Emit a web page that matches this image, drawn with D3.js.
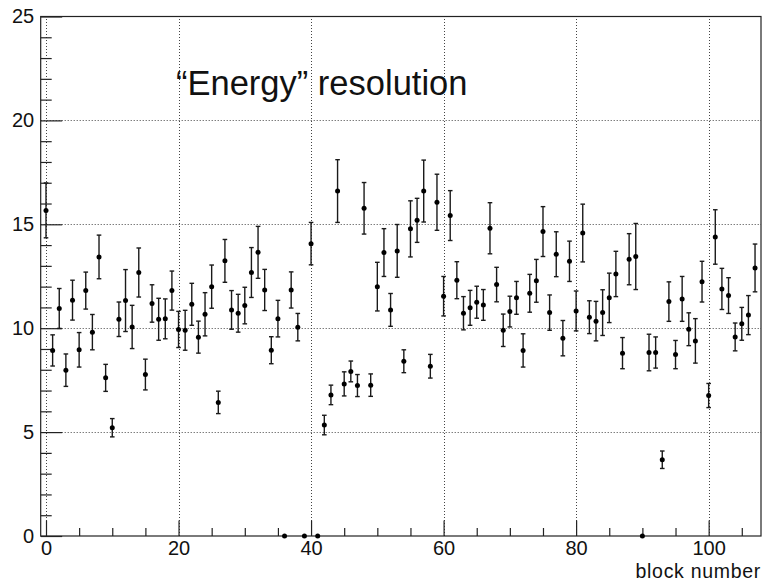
<!DOCTYPE html>
<html>
<head>
<meta charset="utf-8">
<script src="https://cdn.jsdelivr.net/npm/d3@7"></script>
<style>
  html, body { margin: 0; padding: 0; background: #fff; }
  svg { display: block; }
  text { font-family: "Liberation Sans", Arial, Helvetica, sans-serif; fill: #111; }
</style>
</head>
<body>
<svg id="chart" width="763" height="582"></svg>
<script>
// Per-block resolution (value index = block number) and its uncertainty
const resolution = [
  15.67, 8.93, 10.95, 7.98, 11.35, 8.96, 11.81, 9.81, 13.43, 7.61,
  5.21, 10.43, 11.33, 10.06, 12.68, 7.77, 11.19, 10.43, 10.45, 11.81,
  9.94, 9.90, 11.15, 9.57, 10.67, 12.00, 6.43, 13.24, 10.88, 10.72,
  11.09, 12.68, 13.65, 11.84, 8.94, 10.46, 0, 11.84, 10.05, 0,
  14.07, 0, 5.34, 6.79, 16.60, 7.32, 7.92, 7.24, 15.77, 7.26,
  12.00, 13.64, 10.88, 13.72, 8.41, 14.78, 15.19, 16.60, 8.17, 16.06,
  11.54, 15.42, 12.31, 10.72, 10.98, 11.25, 11.12, 14.81, 12.10, 9.90,
  10.80, 11.46, 8.93, 11.68, 12.28, 14.65, 10.75, 13.56, 9.52, 13.22,
  10.83, 14.58, 10.53, 10.34, 10.75, 11.46, 12.61, 8.80, 13.32, 13.45,
  0, 8.83, 8.83, 3.67, 11.28, 8.73, 11.41, 9.95, 9.39, 12.24,
  6.76, 14.39, 11.89, 11.57, 9.58, 10.21, 10.63, 12.90
];
const resolutionErr = [
  1.32, 0.75, 0.96, 0.78, 0.96, 0.83, 0.89, 0.85, 1.05, 0.65,
  0.44, 0.83, 1.49, 1.04, 1.18, 0.74, 0.90, 1.01, 0.96, 0.94,
  0.87, 0.96, 1.01, 0.77, 1.04, 1.04, 0.54, 1.03, 0.93, 0.91,
  0.88, 1.20, 1.25, 0.99, 0.65, 0.88, 0, 0.87, 0.66, 0,
  1.02, 0, 0.47, 0.47, 1.51, 0.58, 0.50, 0.53, 1.24, 0.54,
  1.17, 1.15, 0.79, 1.27, 0.55, 1.35, 1.06, 1.49, 0.57, 1.35,
  0.95, 1.20, 0.89, 0.80, 0.84, 0.77, 0.74, 1.23, 0.83, 0.78,
  0.74, 0.79, 0.80, 0.91, 1.03, 1.20, 0.85, 1.08, 0.85, 0.97,
  0.96, 1.39, 0.79, 0.95, 1.10, 1.19, 1.09, 0.75, 1.23, 1.59,
  0, 0.88, 0.75, 0.42, 0.95, 0.68, 1.08, 0.79, 1.07, 0.98,
  0.58, 1.31, 0.99, 0.86, 0.67, 0.79, 0.94, 1.15
];
const xMajorTicks = [0, 20, 40, 60, 80, 100];
const xMinorTicks = [5, 10, 15, 25, 30, 35, 45, 50, 55, 65, 70, 75, 85, 90, 95, 105];
const yMajorTicks = [0, 5, 10, 15, 20, 25];
const yMinorTicks = [1, 2, 3, 4, 6, 7, 8, 9, 11, 12, 13, 14, 16, 17, 18, 19, 21, 22, 23, 24];
const titleText = "\u201CEnergy\u201D resolution";
const xTitle = "block number";

const points = resolution.map((v, i) => ({ block: i, value: v, err: resolutionErr[i] }));

const svg = d3.select("#chart");
const frame = { left: 40.7, right: 761, top: 16.5, bottom: 536 };

const x = d3.scaleLinear().domain([-0.8, 107.9]).range([frame.left, frame.right]);
const y = d3.scaleLinear().domain([0, 25]).range([frame.bottom, frame.top]);

// dotted grid
const grid = svg.append("g").attr("stroke", "#444").attr("stroke-width", 1)
  .attr("stroke-dasharray", "1,2").attr("fill", "none");
grid.selectAll("line.gx").data(xMajorTicks).join("line")
  .attr("class", "gx")
  .attr("x1", d => Math.round(x(d)) + 0.5).attr("x2", d => Math.round(x(d)) + 0.5)
  .attr("y1", frame.bottom).attr("y2", frame.top);
grid.selectAll("line.gy").data(yMajorTicks.filter(d => d > 0 && d < 25)).join("line")
  .attr("class", "gy")
  .attr("x1", frame.left).attr("x2", frame.right)
  .attr("y1", d => Math.round(y(d)) + 0.5).attr("y2", d => Math.round(y(d)) + 0.5);

// frame
svg.append("rect")
  .attr("x", frame.left).attr("y", frame.top)
  .attr("width", frame.right - frame.left).attr("height", frame.bottom - frame.top)
  .attr("fill", "none").attr("stroke", "#222").attr("stroke-width", 1.2);

// axes with inward ticks
const yAxis = svg.append("g").attr("transform", `translate(${frame.left},0)`)
  .call(d3.axisLeft(y).tickValues(yMajorTicks).tickSize(-21.5).tickPadding(6.5).tickFormat(d3.format("d")));
const yMinor = svg.append("g").attr("transform", `translate(${frame.left},0)`)
  .call(d3.axisLeft(y).tickValues(yMinorTicks).tickSize(-11).tickFormat(""));
const xAxis = svg.append("g").attr("transform", `translate(0,${frame.bottom})`)
  .call(d3.axisBottom(x).tickValues(xMajorTicks).tickSize(-15.5).tickPadding(5).tickFormat(d3.format("d")));
const xMinor = svg.append("g").attr("transform", `translate(0,${frame.bottom})`)
  .call(d3.axisBottom(x).tickValues(xMinorTicks).tickSize(-8).tickFormat(""));

[yAxis, yMinor, xAxis, xMinor].forEach(g => {
  g.select(".domain").remove();
  g.selectAll(".tick line").attr("stroke", "#222").attr("stroke-width", 1.2);
});
yAxis.selectAll(".tick text").attr("font-size", 20).attr("fill", "#111")
  .attr("font-family", "'Liberation Sans', Arial, sans-serif");
xAxis.selectAll(".tick text").attr("font-size", 20).attr("fill", "#111")
  .attr("font-family", "'Liberation Sans', Arial, sans-serif");

// error bars with end caps
const marks = svg.append("g").attr("stroke", "#1a1a1a").attr("stroke-width", 1.4);
const withErr = points.filter(d => d.err > 0);
marks.selectAll("line.bar").data(withErr).join("line")
  .attr("class", "bar")
  .attr("x1", d => x(d.block)).attr("x2", d => x(d.block))
  .attr("y1", d => y(d.value - d.err)).attr("y2", d => y(d.value + d.err));
marks.selectAll("line.capTop").data(withErr).join("line")
  .attr("class", "capTop")
  .attr("x1", d => x(d.block) - 2.3).attr("x2", d => x(d.block) + 2.3)
  .attr("y1", d => y(d.value + d.err)).attr("y2", d => y(d.value + d.err));
marks.selectAll("line.capBot").data(withErr).join("line")
  .attr("class", "capBot")
  .attr("x1", d => x(d.block) - 2.3).attr("x2", d => x(d.block) + 2.3)
  .attr("y1", d => y(d.value - d.err)).attr("y2", d => y(d.value - d.err));

// markers
svg.append("g").selectAll("circle").data(points).join("circle")
  .attr("cx", d => x(d.block)).attr("cy", d => y(d.value))
  .attr("r", 2.5).attr("fill", "#000");

// texts
svg.append("text").attr("x", 176).attr("y", 95)
  .attr("font-size", 34.5).text(titleText);
svg.append("text").attr("x", frame.right).attr("y", 577.5)
  .attr("text-anchor", "end").attr("font-size", 19.5)
  .attr("letter-spacing", 0.7).text(xTitle);
</script>
</body>
</html>
